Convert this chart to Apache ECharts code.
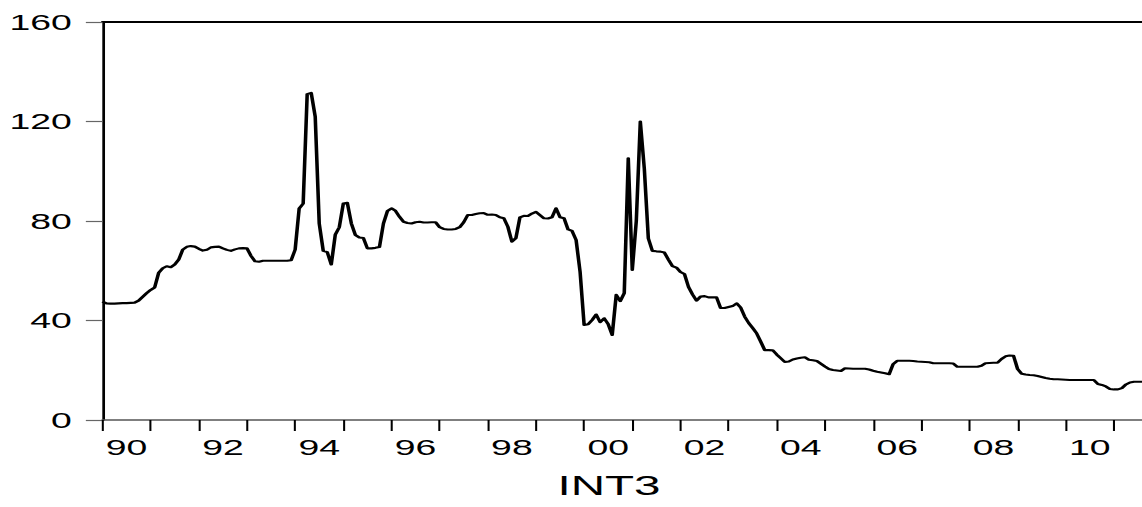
<!DOCTYPE html>
<html><head><meta charset="utf-8">
<script src="https://cdn.jsdelivr.net/npm/echarts@6/dist/echarts.min.js"></script>
<style>
html,body{margin:0;padding:0;background:#fff;overflow:hidden;}
#wrap{width:1142px;height:507px;overflow:hidden;}
#chart{width:672px;height:507px;transform:scaleX(1.6994);transform-origin:0 0;}
</style></head><body><div id="wrap"><div id="chart"></div></div>
<script>
const SX = 1142 / 672;
const startYear = 1990;
const seriesName = 'INT3';
const int3 = [
  47.6, 46.9, 46.8, 46.8, 46.9, 47.0, 47.0, 47.1, 47.2, 48.0, 49.5, 51.0,
  52.3, 53.3, 59.2, 61.0, 61.8, 61.4, 62.5, 64.5, 68.5, 69.6, 69.9, 69.7,
  68.8, 68.1, 68.4, 69.4, 69.6, 69.7, 69.0, 68.4, 68.0, 68.6, 69.0, 69.1,
  69.0, 66.0, 63.8, 63.6, 64.0, 64.0, 64.0, 64.0, 64.0, 64.0, 64.0, 64.2,
  68.5, 85.0, 87.0, 131.0, 131.5, 122.0, 79.0, 68.0, 67.5, 62.5, 74.5, 77.5,
  87.0, 87.3, 79.0, 74.4, 73.4, 73.2, 69.0, 69.0, 69.2, 69.5, 79.0, 84.0,
  85.1, 84.1, 81.7, 79.7, 79.2, 79.0, 79.5, 79.7, 79.4, 79.4, 79.5, 79.5,
  77.5, 76.8, 76.6, 76.6, 76.8, 77.5, 79.5, 82.4, 82.4, 82.8, 83.1, 83.2,
  82.5, 82.6, 82.4, 81.5, 81.1, 77.7, 71.7, 73.1, 81.5, 82.1, 82.0, 83.0,
  83.7, 82.4, 81.1, 81.0, 81.5, 85.1, 81.5, 81.1, 76.6, 76.0, 72.4, 59.5,
  38.2, 38.5, 40.2, 42.4, 39.3, 40.9, 38.5, 34.2, 50.3, 47.8, 51.0, 105.2,
  60.3, 80.0, 120.0, 101.0, 73.0, 68.0, 67.8, 67.7, 67.3, 64.5, 61.9, 61.3,
  59.5, 58.7, 53.5, 50.5, 48.0, 49.6, 49.8, 49.3, 49.3, 49.3, 45.0, 45.0,
  45.4, 45.8, 46.9, 45.2, 41.6, 39.0, 37.0, 34.8, 31.5, 28.1, 28.1, 28.0,
  26.3, 24.8, 23.3, 23.5, 24.3, 24.7, 25.0, 25.2, 24.2, 24.0, 23.7, 22.6,
  21.5, 20.5, 20.1, 19.9, 19.7, 20.8, 20.7, 20.6, 20.6, 20.6, 20.6, 20.3,
  19.8, 19.4, 19.1, 18.8, 18.4, 22.5, 23.8, 23.8, 23.8, 23.8, 23.7, 23.5,
  23.4, 23.3, 23.2, 22.8, 22.8, 22.8, 22.8, 22.8, 22.7, 21.4, 21.4, 21.4,
  21.4, 21.4, 21.4, 21.8, 22.8, 22.9, 23.0, 23.0, 24.5, 25.6, 25.9, 25.8,
  20.5, 18.6, 18.3, 18.1, 18.0, 17.7, 17.3, 16.9, 16.6, 16.4, 16.4, 16.3,
  16.2, 16.1, 16.1, 16.1, 16.1, 16.1, 16.1, 16.1, 14.5, 14.1, 13.5, 12.5,
  12.3, 12.3, 12.8, 14.3, 15.1, 15.4, 15.4, 15.4
];
const months = [];
for (let i = 0; i < int3.length; i++) {
  const y = startYear + Math.floor(i / 12);
  const m = (i % 12) + 1;
  months.push(y + 'M' + (m < 10 ? '0' : '') + m);
}
const yMin = 0, yMax = 160, yStep = 40;

const FONT = '"Liberation Sans", Arial, Helvetica, sans-serif';
const chart = echarts.init(document.getElementById('chart'), null, { renderer: 'svg' });
chart.setOption({
  animation: false,
  backgroundColor: '#ffffff',
  title: {
    text: seriesName,
    left: 609 / SX - 30.3,
    top: 471,
    padding: 0,
    textStyle: { fontFamily: FONT, fontSize: 28, fontWeight: 'normal', color: '#000' }
  },
  grid: { left: 102.5 / SX, right: 0, top: 22, bottom: 87, containLabel: false },
  xAxis: [{
    type: 'category',
    data: months,
    boundaryGap: false,
    position: 'bottom',
    axisLine: { show: true, onZero: false, lineStyle: { color: '#555', width: 1.5 } },
    axisTick: {
      show: true, inside: false, length: 11,
      interval: function (idx) { return idx % 12 === 0; },
      lineStyle: { color: '#000', width: 1.2 }
    },
    axisLabel: {
      show: true, margin: 16, color: '#000', fontFamily: FONT, fontSize: 22,
      interval: function (idx) { return idx % 24 === 6; },
      formatter: function (v) { return v.slice(2, 4); }
    },
    splitLine: { show: false }
  }, {
    type: 'category',
    data: months,
    boundaryGap: false,
    position: 'top',
    axisLine: { show: true, onZero: false, lineStyle: { color: '#000', width: 2 } },
    axisTick: { show: false },
    axisLabel: { show: false },
    splitLine: { show: false }
  }],
  yAxis: {
    type: 'value',
    min: yMin, max: yMax, interval: yStep,
    axisLine: { show: true, onZero: false, lineStyle: { color: '#000', width: 1.6 } },
    axisTick: { show: true, inside: false, length: 9.8, lineStyle: { color: '#666', width: 1.2 } },
    axisLabel: { show: true, margin: 18, color: '#000', fontFamily: FONT, fontSize: 22 },
    splitLine: { show: false }
  },
  series: [{
    name: seriesName,
    type: 'line',
    xAxisIndex: 0,
    data: int3,
    symbol: 'none',
    showSymbol: false,
    clip: false,
    lineStyle: { color: '#000', width: 2.1, join: 'round' }
  }]
});
</script></body></html>
